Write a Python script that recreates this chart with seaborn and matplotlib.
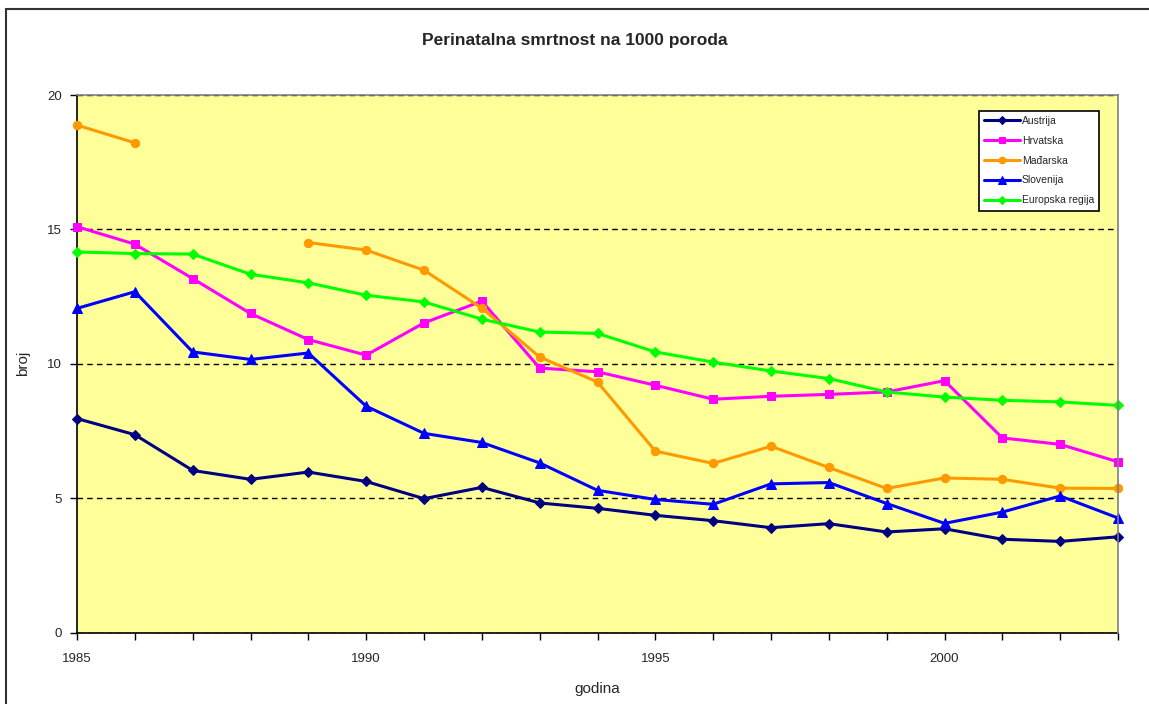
import seaborn as sns
import matplotlib.pyplot as plt
import matplotlib.patches as patches
import numpy as np
import pandas as pd

# Data
godine = list(range(1985, 2004))
austrija = [7.96, 7.36, 6.03, 5.70, 5.97, 5.62, 4.98, 5.40, 4.82, 4.62, 4.36, 4.16, 3.90,
            4.05, 3.74, 3.86, 3.47, 3.39, 3.56]
hrvatska = [15.1, 14.45, 13.17, 11.87, 10.9, 10.32, 11.52, 12.33, 9.84, 9.7, 9.2, 8.68, 8.79,
            8.86, 8.95, 9.37, 7.24, 7.0, 6.35]
madarska = [18.88, 18.22, np.nan, np.nan, 14.51, 14.23, 13.48, 12.07, 10.25, 9.32, 6.75, 6.29,
            6.93, 6.14, 5.36, 5.75, 5.7, 5.37, 5.36]
slovenija = [12.06, 12.68, 10.44, 10.16, 10.4, 8.42, 7.41, 7.07, 6.31, 5.29, 4.95, 4.77, 5.53,
             5.58, 4.8, 4.06, 4.48, 5.08, 4.26]
europa = [14.16, 14.1, 14.08, 13.33, 13.01, 12.55, 12.3, 11.66, 11.18, 11.13, 10.44, 10.06,
          9.73, 9.45, 8.95, 8.76, 8.64, 8.58, 8.45]

serije = ["Austrija", "Hrvatska", "Mađarska", "Slovenija", "Europska regija"]
vrijednosti = [austrija, hrvatska, madarska, slovenija, europa]
boje = ["#000080", "#FF00FF", "#FF9900", "#0000FF", "#00FF00"]
markeri = ["D", "s", "o", "^", "D"]
velicine = [5, 6, 6, 7, 5]

sns.set_theme(style="white")
plt.rcParams['font.family'] = ['Liberation Sans', 'DejaVu Sans']

fig = plt.figure(figsize=(11.49, 7.04), dpi=100)
ax = fig.add_axes([77 / 1149, 1 - 632.5 / 704, (1118 - 77) / 1149, (632.5 - 95) / 704])
ax.set_facecolor("#FFFF99")

# outer chart frame (runs off the right/bottom edges)
fig.patches.append(patches.Rectangle((6 / 1149, -0.05), 1.2, 1 - 9 / 704 + 0.05,
                                     transform=fig.transFigure, fill=False,
                                     edgecolor="#333333", linewidth=1.5))

for naziv, vals, boja, mk, ms in zip(serije, vrijednosti, boje, markeri, velicine):
    df = pd.DataFrame({"godina": godine, "broj": vals})
    # split into contiguous runs so that missing years leave a gap
    df["seg"] = df["broj"].isna().cumsum()
    df = df.dropna()
    prvi = True
    for _, d in df.groupby("seg"):
        sns.lineplot(data=d, x="godina", y="broj", ax=ax, color=boja, marker=mk,
                     markersize=ms, markeredgecolor=boja, linewidth=2.2,
                     label=naziv if prvi else None, legend=False, clip_on=False,
                     zorder=3)
        prvi = False

ax.set_xlim(1985, 2003)
ax.set_ylim(0, 20)
ax.set_xticks(godine, minor=True)
ax.set_xticks([1985, 1990, 1995, 2000])
ax.set_yticks([0, 5, 10, 15, 20])
ax.tick_params(axis="both", which="both", direction="out", length=5, width=1,
               color="black", labelsize=9.5, bottom=True, left=True)
ax.tick_params(axis="x", pad=10)
ax.tick_params(axis="y", pad=6)
ax.yaxis.grid(True, linestyle=(0, (4, 3)), color="black", linewidth=1)
ax.xaxis.grid(False)

for s in ["left", "bottom"]:
    ax.spines[s].set_color("black")
    ax.spines[s].set_linewidth(1.2)
for s in ["top", "right"]:
    ax.spines[s].set_color("#808080")
    ax.spines[s].set_linewidth(1.2)
    ax.spines[s].set_zorder(4)

ax.set_xlabel("godina", fontsize=11, labelpad=12)
ax.set_ylabel("broj", fontsize=11, labelpad=12)
fig.suptitle("Perinatalna smrtnost na 1000 poroda", fontsize=12.5, fontweight="bold",
             y=1 - 40 / 704, va="center")

leg = ax.legend(loc="upper right", bbox_to_anchor=(0.982, 0.971), borderaxespad=0,
                fontsize=7.5, frameon=True, fancybox=False, handlelength=3.4,
                labelspacing=0.95, handletextpad=0.2, borderpad=0.5, markerscale=0.8)
leg.get_frame().set_edgecolor("black")
leg.get_frame().set_linewidth(1.2)
leg.get_frame().set_facecolor("white")
leg.get_frame().set_alpha(1)
leg.set_zorder(5)

fig.savefig("out.png", dpi=100)
